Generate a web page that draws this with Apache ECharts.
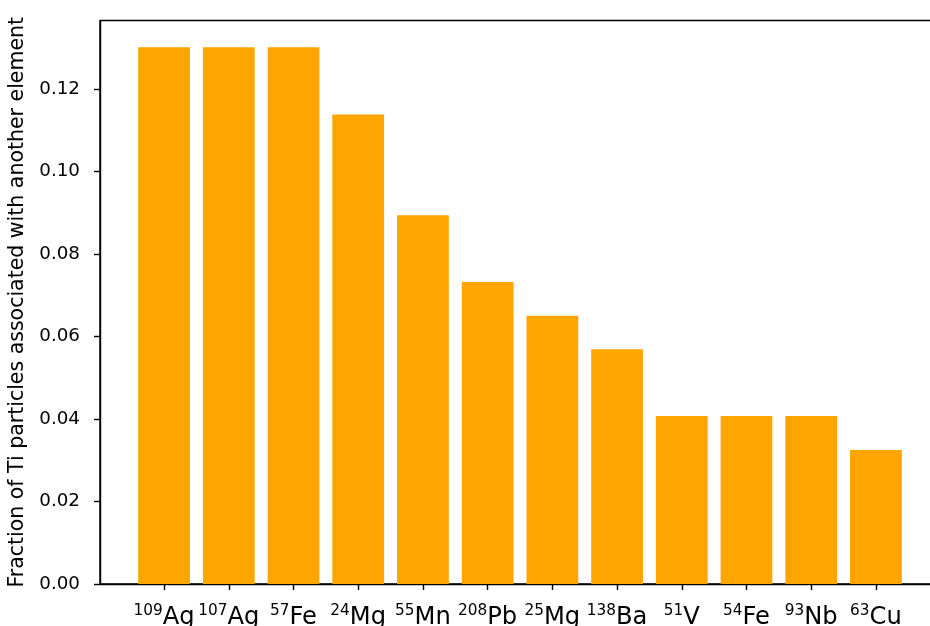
<!DOCTYPE html>
<html>
<head>
<meta charset="utf-8">
<script src="https://cdn.jsdelivr.net/npm/echarts@6/dist/echarts.min.js"></script>
<style>html,body{margin:0;padding:0;background:#fff;}#c{width:930px;height:626px;}</style>
</head>
<body>
<div id="c"></div>
<script>
const masses = ['109','107','57','24','55','208','25','138','51','54','93','63'];
const elements = ['Ag','Ag','Fe','Mg','Mn','Pb','Mg','Ba','V','Fe','Nb','Cu'];
const fractions = [0.1301, 0.1301, 0.1301, 0.1138, 0.0894, 0.0732, 0.0650, 0.0569, 0.0407, 0.0407, 0.0407, 0.0325];
const yTicks = [0, 0.02, 0.04, 0.06, 0.08, 0.10, 0.12];
const yTitle = 'Fraction of Ti particles associated with another element';

const FONT = 'DejaVu Sans';
const xIdx = masses.map((m, i) => i);
const chart = echarts.init(document.getElementById('c'), null, {renderer: 'canvas'});
chart.setOption({
  animation: false,
  backgroundColor: '#ffffff',
  grid: {left: 100, right: -10, top: 20.5, bottom: 42, outerBoundsMode: 'none', containLabel: false,
         show: true, borderColor: '#000', borderWidth: 1.4, backgroundColor: 'transparent'},
  xAxis: {
    type: 'value', min: -0.99, max: 11.99,
    axisLine: {show: true, onZero: false, lineStyle: {color: '#000', width: 1.4}},
    axisTick: {show: true, customValues: xIdx, length: 6, lineStyle: {color: '#000', width: 1.4}},
    splitLine: {show: false},
    axisLabel: {
      customValues: xIdx, margin: 20, color: '#000', fontFamily: FONT,
      formatter: v => { const i = Math.round(v); return '{s|' + masses[i] + '}{m|' + elements[i] + '}'; },
      rich: {
        s: {fontSize: 15.3, lineHeight: 15, verticalAlign: 'top', fontFamily: FONT, color: '#000'},
        m: {fontSize: 24.2, lineHeight: 26.5, fontFamily: FONT, color: '#000'}
      }
    }
  },
  yAxis: {
    type: 'value', min: 0, max: 0.13659,
    name: yTitle, nameLocation: 'middle', nameGap: 68,
    nameTextStyle: {fontFamily: FONT, fontSize: 20.5, color: '#000'},
    axisLine: {show: true, onZero: false, lineStyle: {color: '#000', width: 1.4}},
    axisTick: {show: true, customValues: yTicks, length: 6, lineStyle: {color: '#000', width: 1.4}},
    splitLine: {show: false},
    axisLabel: {customValues: yTicks, margin: 20, fontFamily: FONT, fontSize: 18.3, color: '#000', formatter: v => v.toFixed(2)}
  },
  series: [{
    type: 'bar',
    data: fractions.map((v, i) => [i, v]),
    barWidth: '80%',
    itemStyle: {color: '#FFA500'}
  }]
});
</script>
</body>
</html>
